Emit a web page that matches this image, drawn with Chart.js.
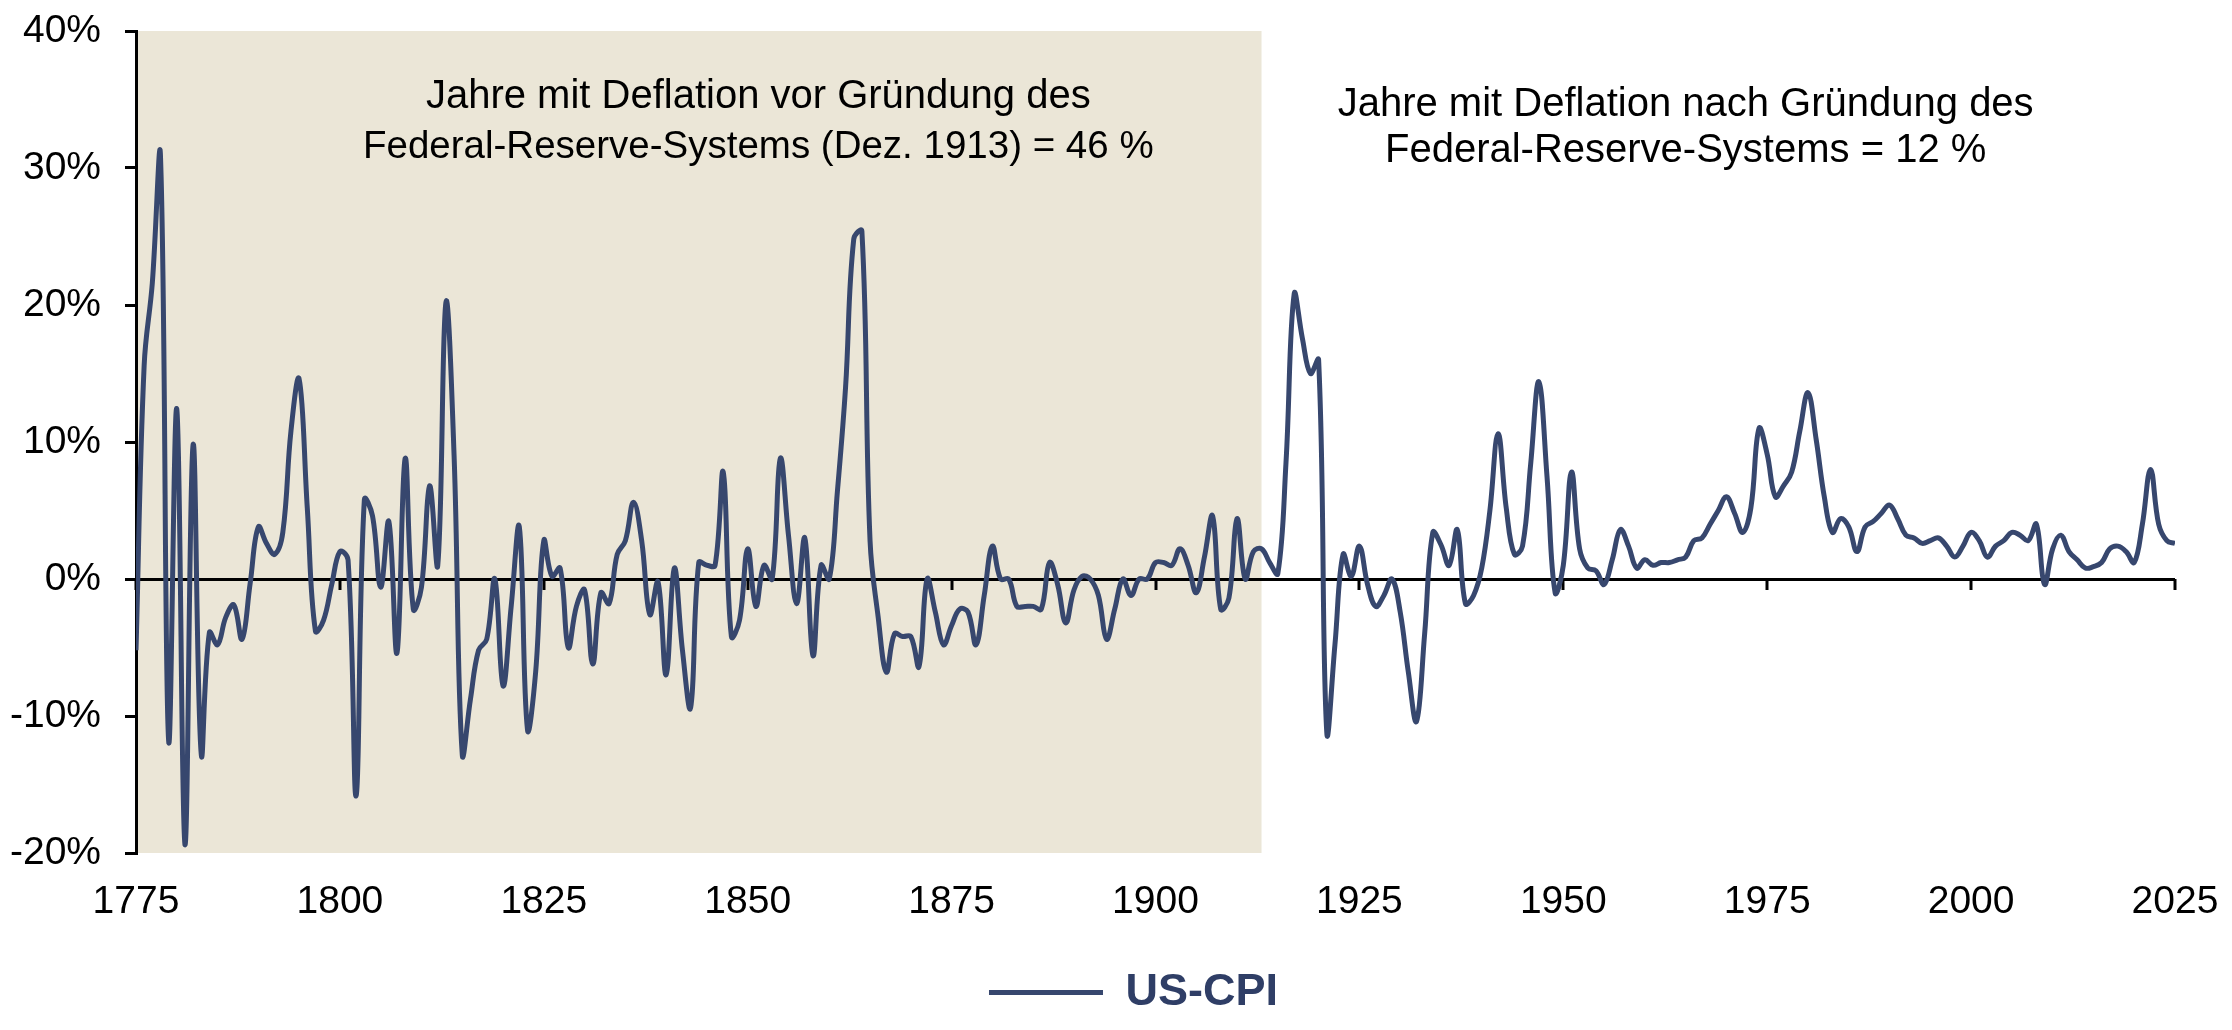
<!DOCTYPE html>
<html lang="de">
<head>
<meta charset="utf-8">
<title>US-CPI – Jahre mit Deflation</title>
<script src="https://cdn.jsdelivr.net/npm/chart.js@4.4.0/dist/chart.umd.min.js"></script>
<style>
  html, body { margin: 0; padding: 0; background: #ffffff; }
  #wrap { width: 2232px; height: 1030px; }
</style>
</head>
<body>
<div id="wrap"><canvas id="cpiChart" width="2232" height="1030"></canvas></div>
<script>
// --- data (annual CPI change, %) ---
const years = [
  1775, 1776, 1777, 1778, 1779, 1780, 1781, 1782, 1783, 1784,
  1785, 1786, 1787, 1788, 1789, 1790, 1791, 1792, 1793, 1794,
  1795, 1796, 1797, 1798, 1799, 1800, 1801, 1802, 1803, 1804,
  1805, 1806, 1807, 1808, 1809, 1810, 1811, 1812, 1813, 1814,
  1815, 1816, 1817, 1818, 1819, 1820, 1821, 1822, 1823, 1824,
  1825, 1826, 1827, 1828, 1829, 1830, 1831, 1832, 1833, 1834,
  1835, 1836, 1837, 1838, 1839, 1840, 1841, 1842, 1843, 1844,
  1845, 1846, 1847, 1848, 1849, 1850, 1851, 1852, 1853, 1854,
  1855, 1856, 1857, 1858, 1859, 1860, 1861, 1862, 1863, 1864,
  1865, 1866, 1867, 1868, 1869, 1870, 1871, 1872, 1873, 1874,
  1875, 1876, 1877, 1878, 1879, 1880, 1881, 1882, 1883, 1884,
  1885, 1886, 1887, 1888, 1889, 1890, 1891, 1892, 1893, 1894,
  1895, 1896, 1897, 1898, 1899, 1900, 1901, 1902, 1903, 1904,
  1905, 1906, 1907, 1908, 1909, 1910, 1911, 1912, 1913, 1914,
  1915, 1916, 1917, 1918, 1919, 1920, 1921, 1922, 1923, 1924,
  1925, 1926, 1927, 1928, 1929, 1930, 1931, 1932, 1933, 1934,
  1935, 1936, 1937, 1938, 1939, 1940, 1941, 1942, 1943, 1944,
  1945, 1946, 1947, 1948, 1949, 1950, 1951, 1952, 1953, 1954,
  1955, 1956, 1957, 1958, 1959, 1960, 1961, 1962, 1963, 1964,
  1965, 1966, 1967, 1968, 1969, 1970, 1971, 1972, 1973, 1974,
  1975, 1976, 1977, 1978, 1979, 1980, 1981, 1982, 1983, 1984,
  1985, 1986, 1987, 1988, 1989, 1990, 1991, 1992, 1993, 1994,
  1995, 1996, 1997, 1998, 1999, 2000, 2001, 2002, 2003, 2004,
  2005, 2006, 2007, 2008, 2009, 2010, 2011, 2012, 2013, 2014,
  2015, 2016, 2017, 2018, 2019, 2020, 2021, 2022, 2023, 2024,
  2025
];

const usCpi = [
  -5.2, 15.6, 21.6, 30.9, -11.8, 12.4, -19.4, 9.8, -12.8, -3.9,   // 1775
  -4.8, -2.8, -1.9, -4.4, -0.3, 3.8, 2.6, 1.8, 3.4, 10.8,         // 1785
  14.6, 5.2, -3.8, -3.0, -0.4, 2.0, 1.4, -15.8, 5.8, 4.6,         // 1795
  -0.6, 4.2, -5.4, 8.8, -2.2, -0.6, 6.8, 1.0, 20.2, 9.0,          // 1805
  -12.8, -8.8, -5.2, -4.4, 0.0, -7.8, -2.0, 3.8, -11.0, -6.8,     // 1815
  2.8, 0.2, 0.8, -5.0, -2.0, -0.8, -6.2, -1.0, -1.8, 1.8,         // 1825
  2.8, 5.6, 2.8, -2.6, -0.2, -7.0, 0.8, -5.2, -9.4, 1.2,          // 1835
  1.0, 1.0, 7.8, -4.2, -3.0, 2.2, -2.0, 1.0, 0.0, 8.8,            // 1845
  3.2, -1.8, 3.0, -5.6, 1.0, 0.0, 6.4, 14.0, 24.8, 25.4,          // 1855
  2.8, -2.8, -6.8, -4.0, -4.2, -4.2, -6.4, 0.0, -2.4, -4.8,       // 1865
  -3.4, -2.2, -2.4, -4.8, -1.2, 2.4, 0.0, 0.0, -2.0, -2.0,        // 1875
  -2.0, -2.2, 1.2, -0.4, -3.2, -0.8, 0.2, 0.0, -1.2, -4.4,        // 1885
  -2.2, 0.0, -1.2, 0.0, 0.0, 1.2, 1.2, 1.0, 2.2, 1.0,             // 1895
  -1.0, 1.6, 4.6, -2.2, -1.4, 4.4, 0.0, 2.0, 2.2, 1.2,            // 1905
  0.4, 8.5, 20.8, 17.6, 15.0, 16.0, -11.2, -4.8, 1.8, 0.2,        // 1915
  2.4, -0.4, -2.0, -1.2, 0.0, -2.4, -6.8, -10.4, -4.0, 3.4,       // 1925
  2.5, 1.0, 3.6, -1.8, -1.2, 0.8, 5.0, 10.6, 5.2, 1.8,            // 1935
  2.4, 8.4, 14.4, 7.5, -1.0, 1.0, 7.8, 2.2, 0.8, 0.6,             // 1945
  -0.4, 1.4, 3.6, 2.4, 0.8, 1.4, 1.0, 1.2, 1.2, 1.4,              // 1955
  1.6, 2.8, 3.0, 4.0, 5.0, 6.0, 4.8, 3.4, 5.2, 11.0,              // 1965
  9.1, 6.0, 6.8, 7.8, 10.8, 13.6, 10.2, 6.0, 3.4, 4.4,            // 1975
  3.8, 2.0, 3.8, 4.2, 4.8, 5.4, 4.4, 3.2, 3.0, 2.6,               // 1985
  2.8, 3.0, 2.4, 1.6, 2.4, 3.4, 2.8, 1.6, 2.4, 2.8,               // 1995
  3.4, 3.2, 2.8, 4.0, -0.4, 2.2, 3.2, 2.0, 1.4, 0.8,              // 2005
  0.9, 1.2, 2.2, 2.4, 2.0, 1.2, 4.0, 8.0, 4.0, 2.8,               // 2015
  2.6                                                              // 2025
];

const xTicks = [1775, 1800, 1825, 1850, 1875, 1900, 1925, 1950, 1975, 2000, 2025];
const yTicks = [-20, -10, 0, 10, 20, 30, 40];

const fedYear = 1913; // Gründung des Federal-Reserve-Systems
const noteBefore = ["Jahre mit Deflation vor Gründung des", "Federal-Reserve-Systems (Dez. 1913) = 46 %"];
const noteAfter = ["Jahre mit Deflation nach Gründung des", "Federal-Reserve-Systems = 12 %"];

const lineColor = "#37476e";
const shadeColor = "#ebe6d7";
const fontFamily = "'Liberation Sans', Arial, sans-serif";

// beige box for the years before the Fed
const shadePlugin = {
  id: "shade",
  beforeDraw(chart) {
    const { ctx, chartArea, scales } = chart;
    const x0 = scales.x.getPixelForValue(scales.x.min);
    const x1 = scales.x.getPixelForValue(fedYear);
    ctx.save();
    ctx.fillStyle = shadeColor;
    ctx.fillRect(x0, chartArea.top, x1 - x0, chartArea.bottom - chartArea.top);
    ctx.restore();
  },
};

// small tick marks hanging from the zero line
const zeroTicksPlugin = {
  id: "zeroTicks",
  beforeDatasetsDraw(chart) {
    const { ctx, scales } = chart;
    const y0 = scales.y.getPixelForValue(0);
    ctx.save();
    ctx.strokeStyle = "#000";
    ctx.lineWidth = 3;
    xTicks.forEach((t) => {
      const px = Math.round(scales.x.getPixelForValue(t));
      ctx.beginPath();
      ctx.moveTo(px, y0);
      ctx.lineTo(px, y0 + 11);
      ctx.stroke();
    });
    ctx.restore();
  },
};

// legend sits a little right of the canvas centre in the original
const legendShiftPlugin = {
  id: "legendShift",
  afterLayout(chart) {
    const lg = chart.legend;
    if (!lg) return;
    lg.left += 46;
    lg.right += 46;
    lg.top -= 5;
    lg.bottom -= 5;
  },
};

// the two text notes
const notesPlugin = {
  id: "notes",
  afterDraw(chart) {
    const { ctx, chartArea, scales } = chart;
    ctx.save();
    ctx.fillStyle = "#000";
    ctx.textAlign = "center";
    ctx.textBaseline = "middle";
    const xl = scales.x.getPixelForValue(1851.3);
    const xr = scales.x.getPixelForValue(1965.0);
    ctx.font = "40px " + fontFamily;
    ctx.fillText(noteBefore[0], xl, chartArea.top + 66);
    ctx.fillText(noteAfter[0], xr, chartArea.top + 74);
    ctx.fillText(noteAfter[1], xr, chartArea.top + 120);
    ctx.font = "38.5px " + fontFamily;
    ctx.fillText(noteBefore[1], xl, chartArea.top + 116);
    ctx.restore();
  },
};

const chartCanvas = document.getElementById("cpiChart");
if (chartCanvas) {
  new Chart(chartCanvas, {
    type: "line",
    data: {
      datasets: [
        {
          label: "US-CPI",
          data: years.map((yr, i) => ({ x: yr, y: usCpi[i] })),
          borderColor: lineColor,
          backgroundColor: lineColor,
          borderWidth: 5,
          pointRadius: 0,
          tension: 0.4,
          fill: false,
        },
      ],
    },
    options: {
      responsive: false,
      animation: false,
      devicePixelRatio: 1,
      layout: { padding: { top: 31, right: 57, bottom: 0, left: 0 } },
      plugins: {
        legend: {
          position: "bottom",
          labels: {
            usePointStyle: true,
            pointStyle: "line",
            pointStyleWidth: 114,
            color: "#2f3e66",
            font: { family: fontFamily, size: 45, weight: "bold" },
            padding: 10,
          },
        },
        tooltip: { enabled: false },
      },
      scales: {
        x: {
          type: "linear",
          min: 1775,
          max: 2025,
          afterBuildTicks: (scale) => {
            scale.ticks = xTicks.map((v) => ({ value: v }));
          },
          afterFit: (scale) => {
            scale.height = 112;
            scale.paddingLeft = 0;
            scale.paddingRight = 0;
          },
          grid: { display: false, drawTicks: false },
          border: { display: false },
          ticks: {
            color: "#000",
            font: { family: fontFamily, size: 39 },
            padding: 26,
            maxRotation: 0,
            autoSkip: false,
            callback: (v) => String(v),
          },
        },
        y: {
          min: -20,
          max: 40,
          afterBuildTicks: (scale) => {
            scale.ticks = yTicks.map((v) => ({ value: v }));
          },
          afterFit: (scale) => {
            scale.width = 136;
            scale.paddingTop = 0;
            scale.paddingBottom = 0;
          },
          grid: {
            drawOnChartArea: true,
            drawTicks: true,
            tickLength: 11,
            lineWidth: 3,
            color: (c) => (c.tick && c.tick.value === 0 ? "#000" : "rgba(0,0,0,0)"),
            tickColor: "#000",
          },
          border: { display: true, color: "#000", width: 3 },
          ticks: {
            color: "#000",
            font: { family: fontFamily, size: 39 },
            padding: 24,
            callback: (v) => v + "%",
          },
        },
      },
    },
    plugins: [shadePlugin, zeroTicksPlugin, legendShiftPlugin, notesPlugin],
  });
}
</script>
</body>
</html>
